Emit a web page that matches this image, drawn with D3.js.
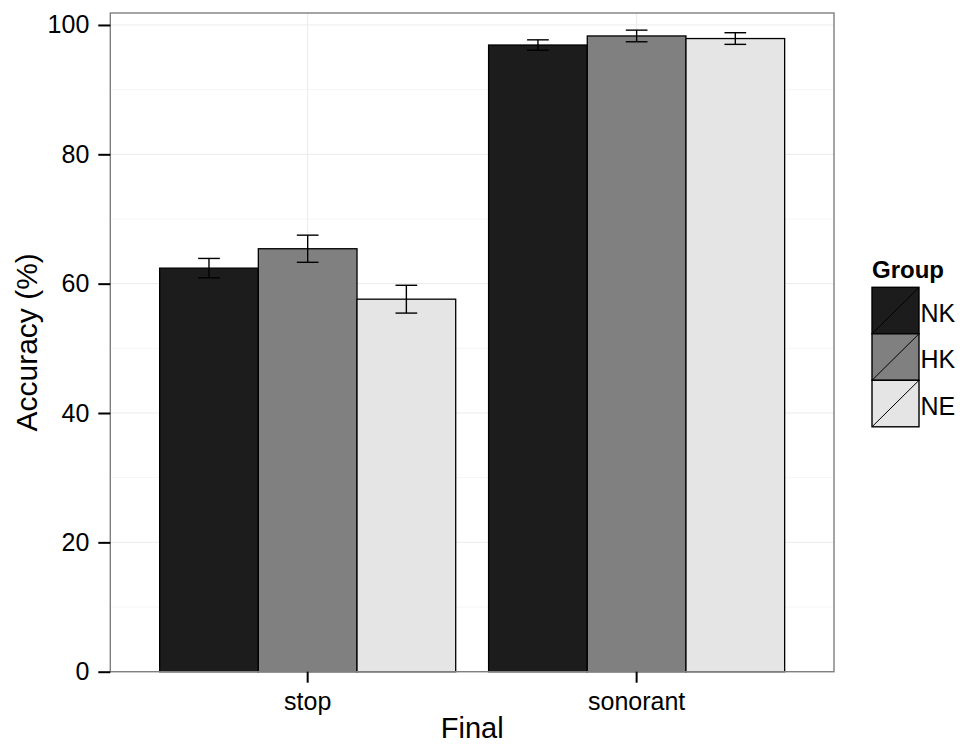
<!DOCTYPE html>
<html>
<head>
<meta charset="utf-8">
<script src="https://cdn.jsdelivr.net/npm/d3@7"></script>
<style>
  html, body { margin: 0; padding: 0; background: #fff; }
  svg { display: block; font-family: "Liberation Sans", Arial, Helvetica, sans-serif; }
</style>
</head>
<body>
<svg id="chart" width="963" height="744"></svg>
<script>
// ---- data ----
const categories = ["stop", "sonorant"];
const groups = ["NK", "HK", "NE"];
const meanNK = [62.4, 96.9];
const meanHK = [65.4, 98.3];
const meanNE = [57.6, 97.9];
const seNK = [1.5, 0.8];
const seHK = [2.1, 0.9];
const seNE = [2.15, 0.9];
const yTicks = [0, 20, 40, 60, 80, 100];
const yMinorTicks = [10, 30, 50, 70, 90];
const fills = ["#1C1C1C", "#808080", "#E5E5E5"];

const means = { NK: meanNK, HK: meanHK, NE: meanNE };
const ses = { NK: seNK, HK: seHK, NE: seNE };
const rows = [];
categories.forEach((c, i) => groups.forEach(g => rows.push({ cat: c, group: g, mean: means[g][i], se: ses[g][i] })));

// ---- layout ----
const svg = d3.select("#chart");
const P = { left: 110.3, right: 834, top: 13, bottom: 671.7 };

const x = d3.scaleBand().domain(categories).range([P.left, P.right]).paddingInner(0.1).paddingOuter(0.15);
const xIn = d3.scaleBand().domain(groups).range([0, x.bandwidth()]).padding(0);
const y = d3.scaleLinear().domain([0, 101.85]).range([P.bottom, P.top]);
const color = d3.scaleOrdinal().domain(groups).range(fills);

// panel background
svg.append("rect").attr("x", P.left).attr("y", P.top)
  .attr("width", P.right - P.left).attr("height", P.bottom - P.top).attr("fill", "#fff");

// grid
const grid = svg.append("g");
grid.selectAll(".minor").data(yMinorTicks).join("line")
  .attr("x1", P.left).attr("x2", P.right)
  .attr("y1", d => y(d)).attr("y2", d => y(d))
  .attr("stroke", "#F5F5F5").attr("stroke-width", 1);
grid.selectAll(".major").data(yTicks).join("line")
  .attr("x1", P.left).attr("x2", P.right)
  .attr("y1", d => y(d)).attr("y2", d => y(d))
  .attr("stroke", "#EBEBEB").attr("stroke-width", 1);
grid.selectAll(".vmajor").data(categories).join("line")
  .attr("x1", d => x(d) + x.bandwidth() / 2).attr("x2", d => x(d) + x.bandwidth() / 2)
  .attr("y1", P.top).attr("y2", P.bottom)
  .attr("stroke", "#EBEBEB").attr("stroke-width", 1);

// bars
svg.append("g").selectAll("rect").data(rows).join("rect")
  .attr("x", d => x(d.cat) + xIn(d.group))
  .attr("y", d => y(d.mean))
  .attr("width", xIn.bandwidth())
  .attr("height", d => y(0) - y(d.mean))
  .attr("fill", d => color(d.group))
  .attr("stroke", "#000").attr("stroke-width", 1.3);

// error bars
const capW = xIn.bandwidth() * 0.22;
const eb = svg.append("g").attr("stroke", "#000").attr("stroke-width", 1.4);
rows.forEach(d => {
  const cx = x(d.cat) + xIn(d.group) + xIn.bandwidth() / 2;
  eb.append("line").attr("x1", cx).attr("x2", cx).attr("y1", y(d.mean + d.se)).attr("y2", y(d.mean - d.se));
  eb.append("line").attr("x1", cx - capW / 2).attr("x2", cx + capW / 2).attr("y1", y(d.mean + d.se)).attr("y2", y(d.mean + d.se));
  eb.append("line").attr("x1", cx - capW / 2).attr("x2", cx + capW / 2).attr("y1", y(d.mean - d.se)).attr("y2", y(d.mean - d.se));
});

// panel border
svg.append("rect").attr("x", P.left).attr("y", P.top)
  .attr("width", P.right - P.left).attr("height", P.bottom - P.top)
  .attr("fill", "none").attr("stroke", "#7F7F7F").attr("stroke-width", 1.4);

// axes
const yAxis = svg.append("g").attr("transform", `translate(${P.left},0)`)
  .call(d3.axisLeft(y).tickValues(yTicks).tickSize(12).tickPadding(9).tickFormat(d3.format("d")));
const xAxis = svg.append("g").attr("transform", `translate(0,${P.bottom})`)
  .call(d3.axisBottom(x).tickSize(11).tickPadding(10));
[yAxis, xAxis].forEach(a => {
  a.select(".domain").remove();
  a.selectAll(".tick line").attr("stroke", "#000").attr("stroke-width", 2);
  a.selectAll(".tick text").attr("fill", "#000").attr("font-size", 25)
    .attr("font-family", '"Liberation Sans", Arial, sans-serif');
});

// axis titles
svg.append("text").attr("x", (P.left + P.right) / 2).attr("y", 738)
  .attr("text-anchor", "middle").attr("font-size", 29).attr("fill", "#000").text("Final");
svg.append("text").attr("transform", `translate(37,${(P.top + P.bottom) / 2}) rotate(-90)`)
  .attr("text-anchor", "middle").attr("font-size", 30).attr("fill", "#000").text("Accuracy (%)");

// legend
const L = { x: 872, y: 287.3, key: 46.5, w: 47 };
svg.append("text").attr("x", L.x).attr("y", 277.5).attr("font-size", 24)
  .attr("font-weight", "bold").attr("fill", "#000").text("Group");
const lg = svg.append("g");
groups.forEach((g, i) => {
  const ky = L.y + i * L.key;
  lg.append("rect").attr("x", L.x).attr("y", ky).attr("width", L.w).attr("height", L.key)
    .attr("fill", color(g)).attr("stroke", "#000").attr("stroke-width", 1.4);
  lg.append("line").attr("x1", L.x).attr("y1", ky + L.key).attr("x2", L.x + L.w).attr("y2", ky)
    .attr("stroke", "#000").attr("stroke-width", 1);
  lg.append("text").attr("x", L.x + L.w + 1.5).attr("y", ky + L.key / 2 + 11)
    .attr("font-size", 25).attr("fill", "#000").text(g);
});
</script>
</body>
</html>
